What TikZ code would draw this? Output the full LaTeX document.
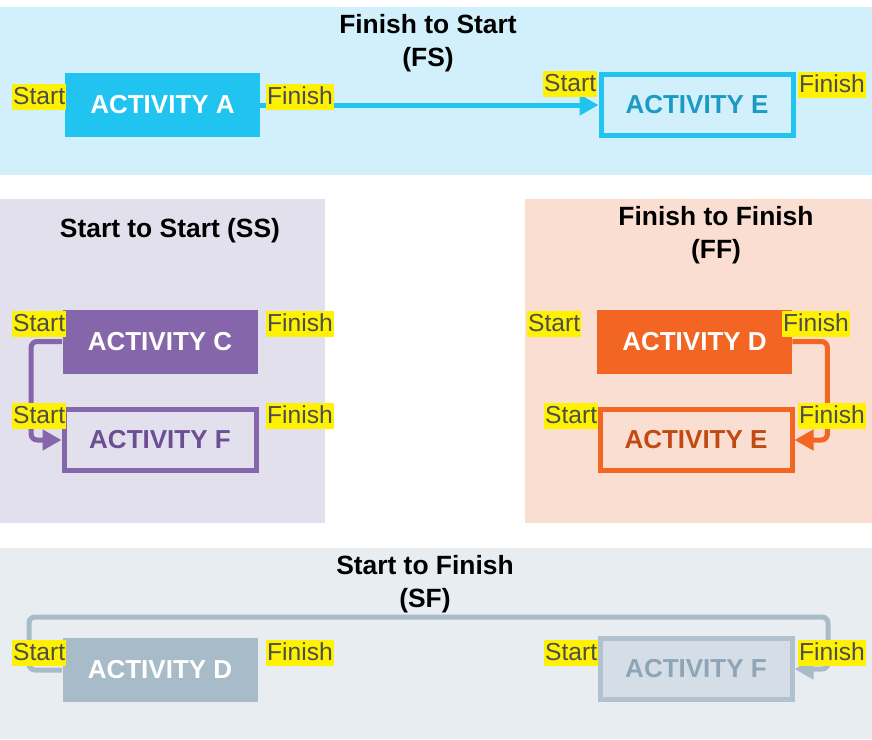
\documentclass[tikz,border=0pt]{standalone}
\usepackage{fontspec}
\setmainfont{Liberation Sans}
\usepackage{tikz}
\usetikzlibrary{arrows.meta,positioning}
\usepackage{xcolor}
\definecolor{fsback}{RGB}{210,240,251}
\definecolor{fscyan}{RGB}{33,196,241}
\definecolor{fstext}{RGB}{27,154,196}
\definecolor{ssback}{RGB}{227,224,238}
\definecolor{sspurple}{RGB}{133,102,171}
\definecolor{sstext}{RGB}{107,78,148}
\definecolor{ffback}{RGB}{251,222,210}
\definecolor{fforange}{RGB}{242,101,34}
\definecolor{fftext}{RGB}{194,74,18}
\definecolor{sfback}{RGB}{232,237,241}
\definecolor{sfgray}{RGB}{168,187,201}
\definecolor{sffill}{RGB}{213,222,230}
\definecolor{sftext}{RGB}{142,165,184}
\definecolor{tagtext}{RGB}{77,77,77}

\tikzset{
    solidbox/.style={fill=#1, text=white, minimum width=97.5pt, minimum height=32pt,
        inner sep=0pt, font=\fontsize{13}{15}\selectfont\bfseries},
    openbox/.style={draw=#1, line width=2.5pt, minimum width=96pt, minimum height=30.5pt,
        inner sep=0pt, font=\fontsize{13}{15}\selectfont\bfseries},
    tag/.style={fill=yellow, text=tagtext, anchor=north west, inner xsep=0.4pt, inner ysep=0.25pt,
        text height=9.8pt, text depth=2.7pt, font=\fontsize{12.3}{14}\selectfont},
    heading/.style={align=center, font=\fontsize{13.2}{16.8}\selectfont\bfseries},
    link/.style={draw=#1, line width=2.5pt, rounded corners=3pt,
        -{Triangle[length=9.5pt,width=10pt]}}
}

\begin{document}
\begin{tikzpicture}[x=0.5pt, y=-0.5pt]
\useasboundingbox (0,0) rectangle (872,739);

% panels
\fill[fsback] (0,7) rectangle (872,175);
\fill[ssback] (0,199) rectangle (325,523);
\fill[ffback] (525,199) rectangle (872,523);
\fill[sfback] (0,548) rectangle (872,739);

% Finish to Start
\node[heading] (fshead) at (428,43) {Finish to Start\\(FS)};
\node[solidbox=fscyan] (actA) at (162.5,105) {ACTIVITY A};
\node[openbox=fscyan, text=fstext] (actE) at (697,105) {ACTIVITY E};
\draw[link=fscyan] (actA.east) -- (actE.west);

% Start to Start
\node[heading] (sshead) at (170,231) {Start to Start (SS)};
\node[solidbox=sspurple] (actC) at (160,341.5) {ACTIVITY C};
\node[openbox=sspurple, text=sstext] (actF) at (160,440) {ACTIVITY F};
\draw[link=sspurple] (actC.west) -- ++(-31,0) |- (actF.west);

% Finish to Finish
\node[heading] (ffhead) at (716,235) {Finish to Finish\\(FF)};
\node[solidbox=fforange] (actD) at (694.5,341.5) {ACTIVITY D};
\node[openbox=fforange, text=fftext] (actEE) at (696,440) {ACTIVITY E};
\draw[link=fforange] (actD.east) -- ++(35,0) |- (actEE.east);

% Start to Finish
\node[heading] (sfhead) at (425,584) {Start to Finish\\(SF)};
\node[solidbox=sfgray] (actDD) at (160,670) {ACTIVITY D};
\node[openbox=sfgray!90!white, fill=sffill, text=sftext] (actFF) at (696,669) {ACTIVITY F};
\coordinate (sfleft) at (29,617);
\coordinate (sfright) at (828,617);
\draw[link=sfgray] (actDD.west) -| (sfleft) -- (sfright) |- (actFF.east);

% start / finish tags
\node[tag] (fsa1) at (12,84) {Start};
\node[tag] (fsa2) at (266,84) {Finish};
\node[tag] (fse1) at (543,71) {Start};
\node[tag] (fse2) at (798,72) {Finish};
\node[tag] (ssc1) at (12,311) {Start};
\node[tag] (ssc2) at (266,311) {Finish};
\node[tag] (ssf1) at (12,403) {Start};
\node[tag] (ssf2) at (266,403) {Finish};
\node[tag] (ffd1) at (527,311) {Start};
\node[tag] (ffd2) at (782,311) {Finish};
\node[tag] (ffe1) at (544,403) {Start};
\node[tag] (ffe2) at (798,403) {Finish};
\node[tag] (sfd1) at (12,640) {Start};
\node[tag] (sfd2) at (266,640) {Finish};
\node[tag] (sff1) at (544,640) {Start};
\node[tag] (sff2) at (798,640) {Finish};

\end{tikzpicture}
\end{document}
